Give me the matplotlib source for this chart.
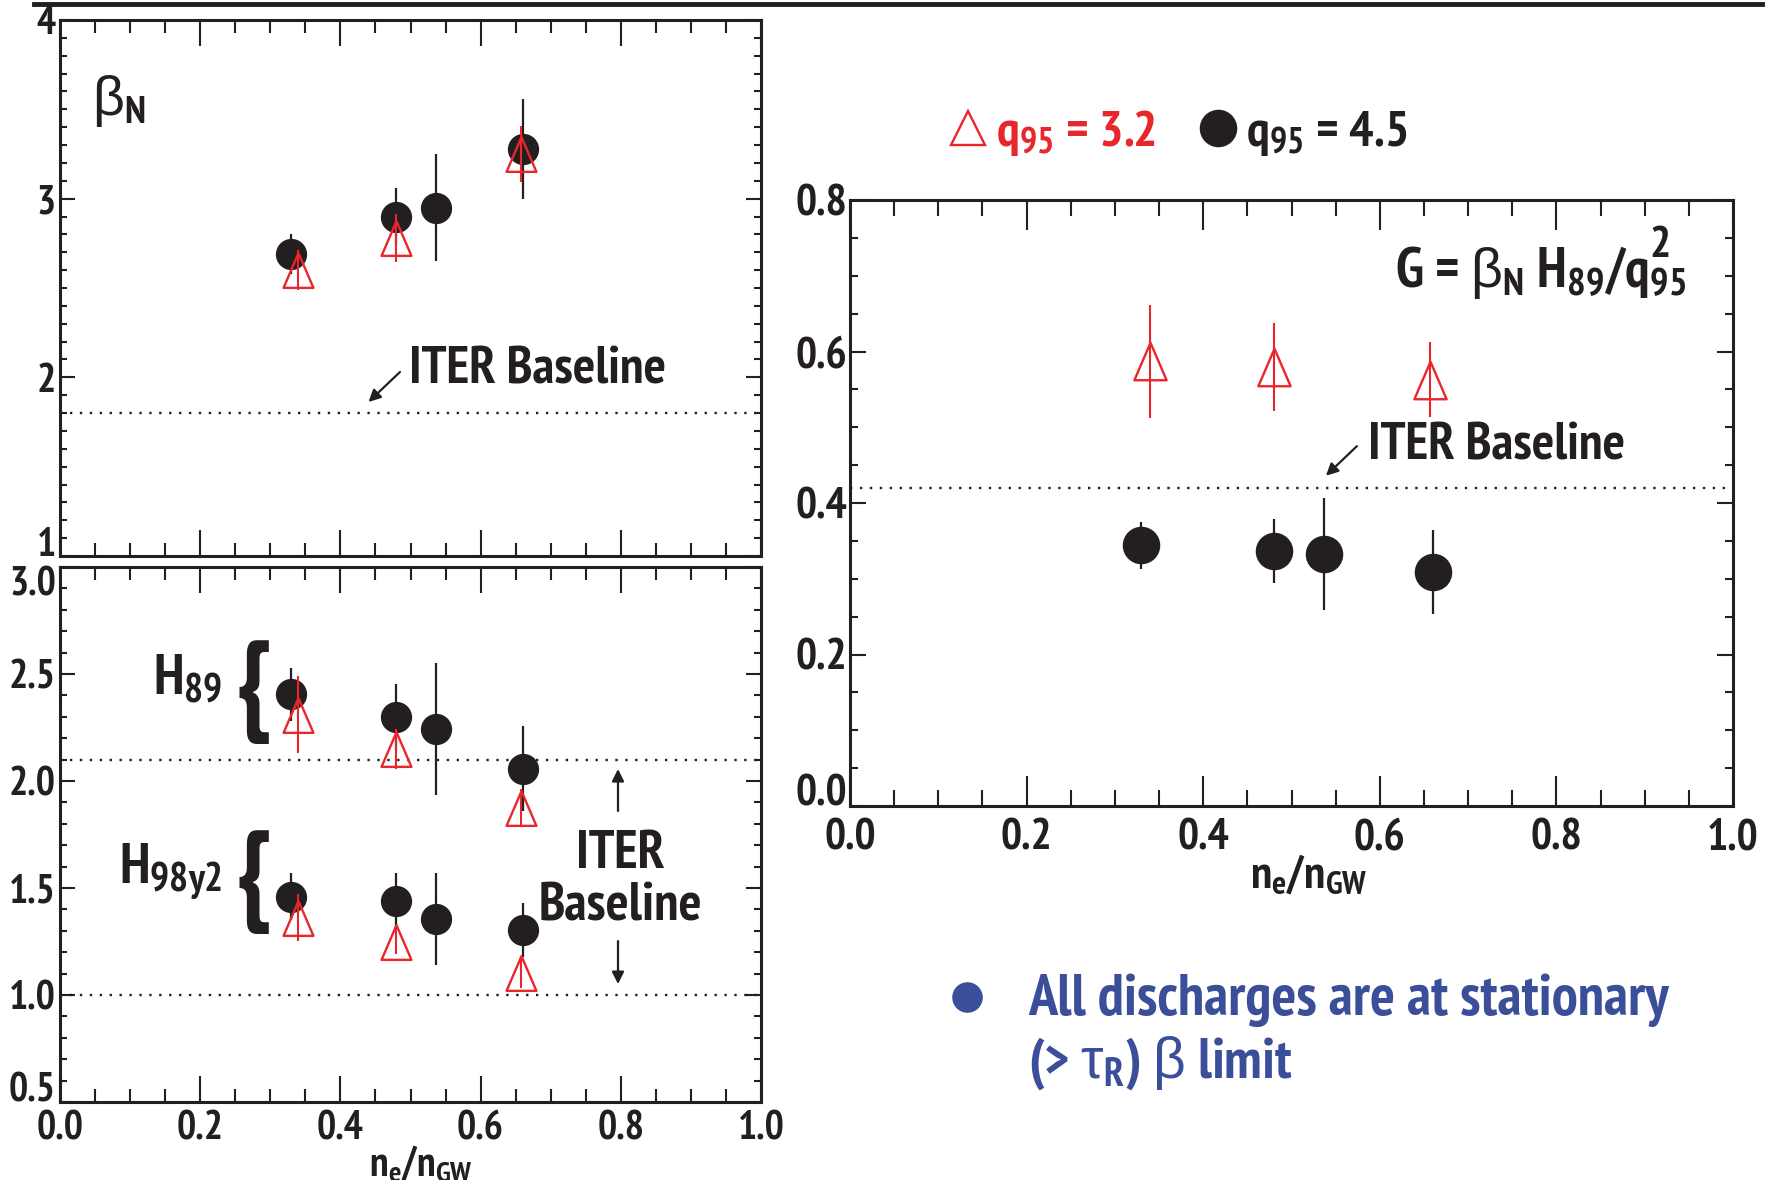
import matplotlib
matplotlib.use('Agg')
import matplotlib.pyplot as plt
from matplotlib import font_manager
from matplotlib.lines import Line2D
from matplotlib.path import Path
from matplotlib.ticker import MultipleLocator, FormatStrFormatter

# ---------------- data ----------------
ne_q45 = [0.33, 0.48, 0.537, 0.66]     # q95 = 4.5 (black circles)
ne_q32 = [0.34, 0.48, 0.657]           # q95 = 3.2 (red triangles)

betaN_q45 = [2.69, 2.90, 2.95, 3.28]
betaN_q45_err = [0.11, 0.16, 0.30, 0.28]
betaN_q32 = [2.60, 2.78, 3.25]
betaN_q32_err = [0.11, 0.135, 0.155]

H89_q45 = [2.405, 2.30, 2.243, 2.058]
H89_q45_err = [0.125, 0.155, 0.31, 0.20]
H89_q32 = [2.31, 2.15, 1.874]
H89_q32_err = [0.18, 0.095, 0.09]

H98_q45 = [1.46, 1.438, 1.353, 1.303]
H98_q45_err = [0.11, 0.13, 0.215, 0.125]
H98_q32 = [1.362, 1.25, 1.104]
H98_q32_err = [0.108, 0.06, 0.07]

G_q45 = [0.344, 0.337, 0.333, 0.309]
G_q45_err = [0.031, 0.042, 0.074, 0.055]
G_q32 = [0.587, 0.580, 0.563]
G_q32_err = [0.075, 0.058, 0.049]

iter_betaN = 1.8
iter_H89 = 2.1
iter_H98 = 1.0
iter_G = 0.42

xticks = [0.0, 0.2, 0.4, 0.6, 0.8, 1.0]
yticks_beta = [1, 2, 3, 4]
yticks_H = [0.5, 1.0, 1.5, 2.0, 2.5, 3.0]
yticks_G = [0.0, 0.2, 0.4, 0.6, 0.8]

legend_labels = [r'$q_{95}$ = 3.2', r'$q_{95}$ = 4.5']
xlabel = r'$n_{e}/n_{GW}$'

# ---------------- style ----------------
BLACK = '#231F20'
RED = '#E8262C'
BLUE = '#3B4E9A'

ttf = font_manager.fontManager.ttflist


def has_static_bold(name):
    return any(f.name == name and f.weight in (700, 'bold') and '[' not in f.fname
               for f in ttf)


FONT = 'Liberation Sans'
for cand in ['Liberation Sans Narrow', 'Arial Narrow', 'PT Sans Narrow',
             'IBM Plex Sans Condensed', 'Open Sans Condensed', 'Roboto Condensed']:
    if has_static_bold(cand):
        FONT = cand
        break

plt.rcParams.update({
    'font.family': [FONT, 'Liberation Sans', 'DejaVu Sans'],
    'font.weight': 'bold',
    'mathtext.fontset': 'custom',
    'mathtext.rm': f'{FONT}:bold',
    'mathtext.it': f'{FONT}:bold',
    'mathtext.bf': f'{FONT}:bold',
    'mathtext.sf': 'Liberation Sans:weight=normal',
    'mathtext.default': 'rm',
    'axes.linewidth': 2.2,
    'axes.edgecolor': BLACK,
    'text.color': BLACK,
})

W, H = 1776, 1180
fig = plt.figure(figsize=(W / 100, H / 100), dpi=100)


def px_axes(l, t, r, b):
    return fig.add_axes([l / W, 1 - b / H, (r - l) / W, (b - t) / H])


ax1 = px_axes(60, 20, 761, 556)
ax2 = px_axes(60, 567, 761, 1102)
ax3 = px_axes(850, 200, 1733, 806)

TRI = Path([(0, 1), (-0.86, -1), (0.86, -1), (0, 1)],
           [Path.MOVETO, Path.LINETO, Path.LINETO, Path.CLOSEPOLY])


def style(ax, yt, ymin, yfmt, xmaj_len, xmin_len, ymaj_len, ymin_len,
          labelsize, xpad, ypad):
    ax.set_xticks(xticks)
    ax.set_yticks(yt)
    ax.set_xlim(0, 1)
    ax.set_ylim(yt[0], yt[-1])
    ax.xaxis.set_minor_locator(MultipleLocator(0.05))
    ax.yaxis.set_minor_locator(MultipleLocator(ymin))
    ax.xaxis.set_major_formatter(FormatStrFormatter('%.1f'))
    ax.yaxis.set_major_formatter(FormatStrFormatter(yfmt))
    ax.tick_params(which='both', direction='in', top=True, right=True,
                   width=1.5, color=BLACK, labelcolor=BLACK, labelsize=labelsize)
    ax.tick_params(axis='x', which='major', length=xmaj_len, pad=xpad)
    ax.tick_params(axis='x', which='minor', length=xmin_len)
    ax.tick_params(axis='y', which='major', length=ymaj_len, pad=ypad)
    ax.tick_params(axis='y', which='minor', length=ymin_len)
    for lab in ax.get_xticklabels() + ax.get_yticklabels():
        lab.set_fontweight('bold')
    ax.yaxis.get_major_ticks()[0].label1.set_va('baseline')


def plot_pair(ax, yb, eb, yr, er, ms_c, ms_t):
    ax.errorbar(ne_q45, yb, yerr=eb, fmt='o', ms=ms_c, color=BLACK,
                ecolor=BLACK, elinewidth=1.6, capsize=0, zorder=3)
    ax.errorbar(ne_q32, yr, yerr=er, fmt='none', ecolor=RED,
                elinewidth=1.5, capsize=0, zorder=4)
    ax.plot(ne_q32, yr, ls='none', marker=TRI, ms=ms_t, mfc='none',
            mec=RED, mew=1.7, zorder=5)


dot = dict(color=BLACK, lw=1.7, ls=(0, (1, 3.2)), zorder=1)
arrow = dict(arrowstyle='-|>', color=BLACK, lw=1.6, mutation_scale=18,
             shrinkA=0, shrinkB=0)

# ---- top-left: beta_N ----
style(ax1, yticks_beta, 0.1, '%d', 19, 9.5, 11, 5, 29, 6, 3)
ax1.tick_params(axis='x', labelbottom=False)
ax1.axhline(iter_betaN, **dot)
plot_pair(ax1, betaN_q45, betaN_q45_err, betaN_q32, betaN_q32_err, 21.5, 25)
ax1.text(0.045, 3.47, r'$\mathsf{\beta}_{N}$', fontsize=40, ha='left', va='baseline')
ax1.text(0.498, 1.963, 'ITER Baseline', fontsize=38, ha='left', va='baseline')
ax1.annotate('', xy=(0.44, 1.862), xytext=(0.485, 2.03), arrowprops=arrow)

# ---- bottom-left: H factors ----
style(ax2, yticks_H, 0.1, '%.1f', 19, 9.5, 11, 5, 29, 6, 3)
ax2.yaxis.get_major_ticks()[-1].label1.set_va('top')
ax2.axhline(iter_H89, **dot)
ax2.axhline(iter_H98, **dot)
plot_pair(ax2, H89_q45, H89_q45_err, H89_q32, H89_q32_err, 21.5, 25)
plot_pair(ax2, H98_q45, H98_q45_err, H98_q32, H98_q32_err, 21.5, 25)
ax2.text(0.232, 2.407, r'$H_{89}$', fontsize=41, ha='right', va='baseline')
ax2.text(0.232, 1.519, r'$H_{98y2}$', fontsize=41, ha='right', va='baseline')
ax2.text(0.250, 2.416, '{', fontsize=80, ha='left', va='center')
ax2.text(0.250, 1.528, '{', fontsize=80, ha='left', va='center')
ax2.text(0.80, 1.593, 'ITER', fontsize=39, ha='center', va='baseline')
ax2.text(0.80, 1.350, 'Baseline', fontsize=39, ha='center', va='baseline')
ax2.annotate('', xy=(0.796, 2.056), xytext=(0.796, 1.86), arrowprops=arrow)
ax2.annotate('', xy=(0.796, 1.051), xytext=(0.796, 1.252), arrowprops=arrow)
ax2.set_xlabel(xlabel, fontsize=30, color=BLACK)
ax2.xaxis.set_label_coords(0.515, -0.078)

# ---- right: G ----
style(ax3, yticks_G, 0.05, '%.1f', 21.5, 11.5, 11.5, 5.8, 32, 9, 2)
ax3.axhline(iter_G, **dot)
plot_pair(ax3, G_q45, G_q45_err, G_q32, G_q32_err, 26, 27)
gt = ax3.text(0.617, 0.685, r'G = $\mathsf{\beta}_{N}$ $H_{89}/q_{95}$',
              fontsize=40, ha='left', va='baseline')
ax3.annotate('2', xy=(1, 1), xycoords=gt, xytext=(-11, -1),
             textcoords='offset points', ha='right', va='center', fontsize=32)
ax3.text(0.587, 0.457, 'ITER Baseline', fontsize=38, ha='left', va='baseline')
ax3.annotate('', xy=(0.539, 0.436), xytext=(0.574, 0.475), arrowprops=arrow)
ax3.set_xlabel(xlabel, fontsize=34, color=BLACK)
ax3.xaxis.set_label_coords(0.52, -0.077)

# ---- legend ----
h_tri = Line2D([], [], ls='none', marker='^', ms=24, mfc='none', mec=RED, mew=1.7)
h_cir = Line2D([], [], ls='none', marker='o', ms=26, color=BLACK)
fig.legend([h_tri, h_cir], legend_labels, loc='center left',
           bbox_to_anchor=(950 / W, 1 - 133 / H), ncol=2, frameon=False,
           fontsize=37, handlelength=0.7, handletextpad=0.2, columnspacing=0.85,
           borderpad=0, borderaxespad=0, labelcolor=[RED, BLACK])

# ---- top rule ----
fig.add_artist(Line2D([34 / W, 1762 / W], [1 - 4 / H, 1 - 4 / H], lw=3.5, color=BLACK))

# ---- blue note ----
fig.add_artist(Line2D([967 / W], [1 - 997 / H], marker='o', ms=21, color=BLUE, ls='none'))
fig.text(1028 / W, 1 - 1015 / H, 'All discharges are at stationary',
         fontsize=42, color=BLUE, ha='left', va='baseline')
fig.text(1028 / W, 1 - 1078 / H, r'(> $\mathsf{\tau}_{R}$) $\mathsf{\beta}$ limit',
         fontsize=41, color=BLUE, ha='left', va='baseline')

fig.savefig('out.png', dpi=100)
